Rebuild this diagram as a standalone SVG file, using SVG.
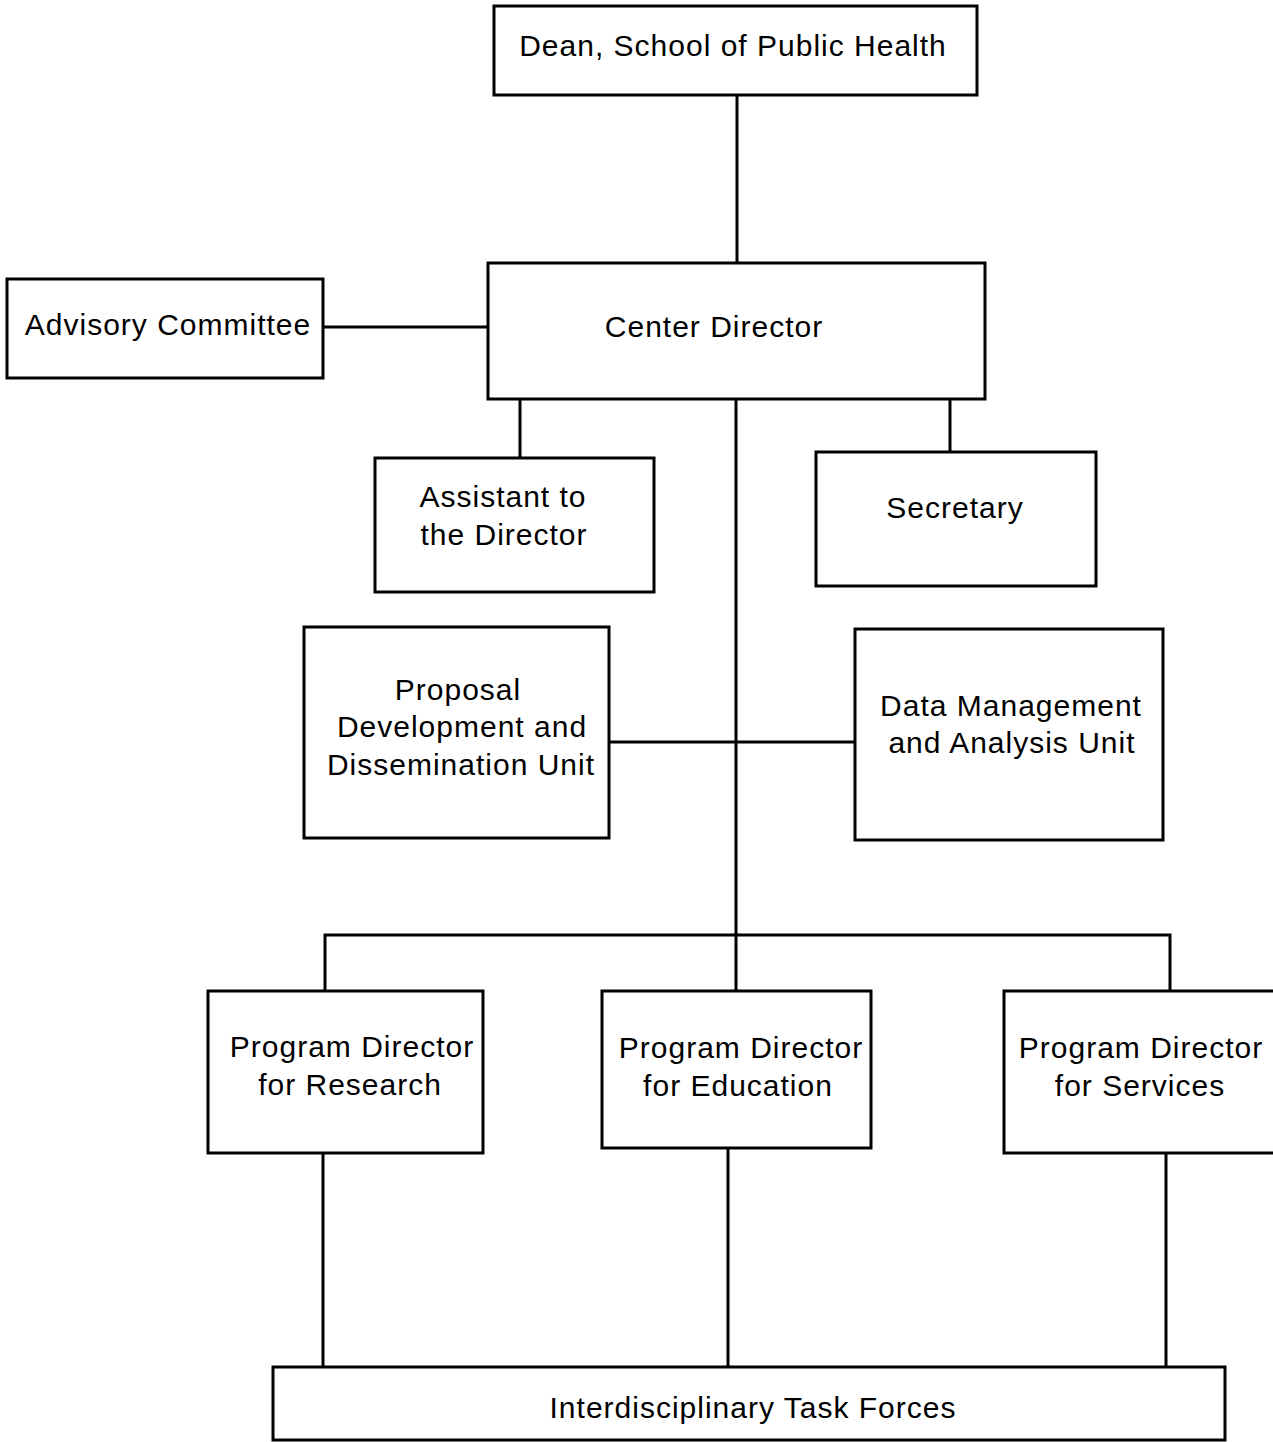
<svg xmlns="http://www.w3.org/2000/svg" width="1273" height="1442" viewBox="0 0 1273 1442">
<style>
.box{fill:#fff;stroke:#000;stroke-width:3}
.ln{stroke:#000;stroke-width:3;fill:none}
text{font-family:"Liberation Sans",Arial,sans-serif;font-size:30px;letter-spacing:1px;fill:#000;text-anchor:middle}
</style>
<rect width="1273" height="1442" fill="#fff"/>
<g id="connectors">
<line class="ln" x1="737" y1="95" x2="737" y2="263"/>
<line class="ln" x1="323" y1="327" x2="488" y2="327"/>
<line class="ln" x1="520" y1="399" x2="520" y2="458"/>
<line class="ln" x1="950" y1="399" x2="950" y2="452"/>
<line class="ln" x1="736" y1="399" x2="736" y2="991"/>
<line class="ln" x1="609" y1="742" x2="855" y2="742"/>
<polyline class="ln" points="325,991 325,935 1170,935 1170,991"/>
<line class="ln" x1="323" y1="1153" x2="323" y2="1367"/>
<line class="ln" x1="728" y1="1148" x2="728" y2="1367"/>
<line class="ln" x1="1166" y1="1153" x2="1166" y2="1367"/>
</g>
<g id="dean"><rect class="box" x="494" y="6" width="483" height="89"/><text x="733" y="56">Dean, School of Public Health</text></g>
<g id="center-director"><rect class="box" x="488" y="263" width="497" height="136"/><text x="714" y="337">Center Director</text></g>
<g id="advisory"><rect class="box" x="7" y="279" width="316" height="99"/><text x="168" y="335">Advisory Committee</text></g>
<g id="assistant"><rect class="box" x="375" y="458" width="279" height="134"/><text x="503" y="507">Assistant to</text><text x="504" y="545">the Director</text></g>
<g id="secretary"><rect class="box" x="816" y="452" width="280" height="134"/><text x="955" y="518">Secretary</text></g>
<g id="proposal"><rect class="box" x="304" y="627" width="305" height="211"/><text x="458" y="700">Proposal</text><text x="462" y="737">Development and</text><text x="461" y="775">Dissemination Unit</text></g>
<g id="data"><rect class="box" x="855" y="629" width="308" height="211"/><text x="1011" y="716">Data Management</text><text x="1012" y="753">and Analysis Unit</text></g>
<g id="research"><rect class="box" x="208" y="991" width="275" height="162"/><text x="352" y="1057">Program Director</text><text x="350" y="1095">for Research</text></g>
<g id="education"><rect class="box" x="602" y="991" width="269" height="157"/><text x="741" y="1058">Program Director</text><text x="738" y="1096">for Education</text></g>
<g id="services"><rect class="box" x="1004" y="991" width="280" height="162"/><text x="1141" y="1058">Program Director</text><text x="1140" y="1096">for Services</text></g>
<g id="task-forces"><rect class="box" x="273" y="1367" width="952" height="73"/><text x="753" y="1418">Interdisciplinary Task Forces</text></g>
</svg>
